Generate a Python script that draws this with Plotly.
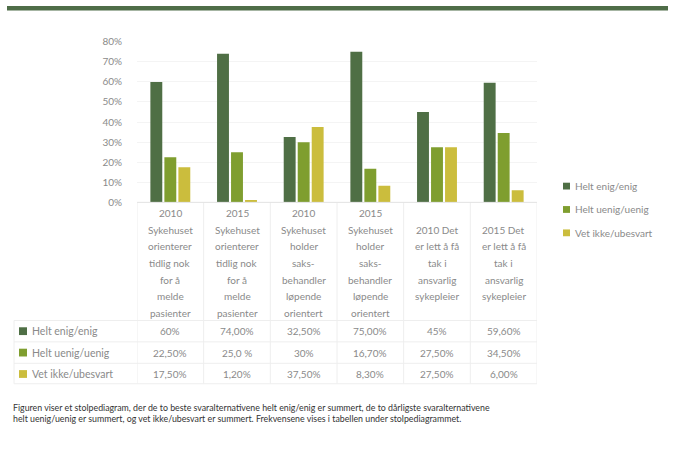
import plotly.graph_objects as go

# Categories (survey statement per year), one list entry per header line
categories = [
    ["2010", "Sykehuset", "orienterer", "tidlig nok", "for å", "melde", "pasienter"],
    ["2015", "Sykehuset", "orienterer", "tidlig nok", "for å", "melde", "pasienter"],
    ["2010", "Sykehuset", "holder", "saks-", "behandler", "løpende", "orientert"],
    ["2015", "Sykehuset", "holder", "saks-", "behandler", "løpende", "orientert"],
    ["2010 Det", "er lett å få", "tak i", "ansvarlig", "sykepleier"],
    ["2015 Det", "er lett å få", "tak i", "ansvarlig", "sykepleier"],
]

series_names = ["Helt enig/enig", "Helt uenig/uenig", "Vet ikke/ubesvart"]

# Frequencies as shown in the data table
enig_labels = ["60%", "74,00%", "32,50%", "75,00%", "45%", "59,60%"]
uenig_labels = ["22,50%", "25,0 %", "30%", "16,70%", "27,50%", "34,50%"]
vetikke_labels = ["17,50%", "1,20%", "37,50%", "8,30%", "27,50%", "6,00%"]

series_labels = [enig_labels, uenig_labels, vetikke_labels]
colors = ["#4f6f45", "#7f9e2f", "#cbbd3d"]

y_ticks = [0, 0.1, 0.2, 0.3, 0.4, 0.5, 0.6, 0.7, 0.8]
y_ticktext = ["0%", "10%", "20%", "30%", "40%", "50%", "60%", "70%", "80%"]

caption_lines = [
    "Figuren viser et stolpediagram, der de to beste svaralternativene helt enig/enig er summert, de to dårligste svaralternativene",
    "helt uenig/uenig er summert, og vet ikke/ubesvart er summert. Frekvensene vises i tabellen under stolpediagrammet.",
]


def pct(s):
    return float(s.replace("%", "").replace(",", ".").strip()) / 100.0


W, H = 674, 454
FONT = "Lato, Open Sans, sans-serif"
GREY = "#8a8a8a"
LINE = "#eeeeee"


def py(p):
    """pixel row -> paper y"""
    return 1 - p / H


def px(p):
    return p / W


x_idx = list(range(len(categories)))

fig = go.Figure()
for name, labels, col in zip(series_names, series_labels, colors):
    fig.add_trace(go.Bar(
        x=x_idx, y=[pct(s) for s in labels], name=name,
        marker=dict(color=col, line=dict(width=0)),
        hoverinfo="skip", showlegend=False,
    ))

plot_left, plot_right = 137, 537
plot_bottom, plot_top = 201.7, 36.7

fig.update_layout(
    width=W, height=H,
    margin=dict(l=0, r=0, t=0, b=0),
    paper_bgcolor="white", plot_bgcolor="white",
    barmode="group", bargap=0.37, bargroupgap=0.15,
    font=dict(family=FONT, color=GREY, size=10),
    showlegend=False,
    xaxis=dict(
        domain=[px(plot_left), px(plot_right)],
        range=[-0.5, len(categories) - 0.5],
        showticklabels=False, showgrid=False, zeroline=False,
        showline=False, fixedrange=True,
    ),
    yaxis=dict(
        domain=[py(plot_bottom), py(plot_top)],
        range=[0, 0.8], tickvals=y_ticks, ticktext=y_ticktext,
        showgrid=True, gridcolor="#f4f4f4", zeroline=False,
        showline=False, ticklabelstandoff=14,
        tickfont=dict(size=10, color=GREY), fixedrange=True,
    ),
)

annotations = []
shapes = []

# Legend at the right: small square + series name
legend_y = [185, 209, 233]
for name, col, ly in zip(series_names, colors, legend_y):
    shapes.append(dict(
        type="rect", xref="paper", yref="paper",
        x0=px(563), x1=px(570), y0=py(ly - 3.5), y1=py(ly + 3.5),
        fillcolor=col, line=dict(width=0),
    ))
    annotations.append(dict(
        x=px(573), xref="paper", y=py(ly), yref="paper", text=name,
        showarrow=False, xanchor="left", yanchor="middle",
        font=dict(size=10, color=GREY),
    ))

# Table header: category text, centred vertically within a 7-line block
header_top, line_step = 213, 17
max_lines = max(len(c) for c in categories)
for i, lines in enumerate(categories):
    offset = (max_lines - len(lines)) / 2
    for j, t in enumerate(lines):
        annotations.append(dict(
            x=i, xref="x", y=py(header_top + line_step * (j + offset)), yref="paper",
            text=t, showarrow=False, xanchor="center", yanchor="middle",
            font=dict(size=10, color=GREY),
        ))

# Table body: one row per series
row_y = [334, 356, 378]
for r, (name, labels, col) in enumerate(zip(series_names, series_labels, colors)):
    yy = py(row_y[r])
    shapes.append(dict(
        type="rect", xref="paper", yref="paper",
        x0=px(19), x1=px(27), y0=py(row_y[r] - 4), y1=py(row_y[r] + 4),
        fillcolor=col, line=dict(width=0),
    ))
    annotations.append(dict(
        x=px(30), xref="paper", y=yy, yref="paper", text=name,
        showarrow=False, xanchor="left", yanchor="middle",
        font=dict(size=10.5, color=GREY),
    ))
    for i, s in enumerate(labels):
        annotations.append(dict(
            x=i, xref="x", y=yy, yref="paper", text=s,
            showarrow=False, xanchor="center", yanchor="middle",
            font=dict(size=10, color=GREY),
        ))

# Table grid lines
table_bottom = 388
for k in range(len(categories) + 1):
    shapes.append(dict(
        type="line", xref="x", yref="paper",
        x0=k - 0.5, x1=k - 0.5, y0=py(plot_bottom), y1=py(table_bottom),
        line=dict(color=LINE, width=1),
    ))
shapes.append(dict(
    type="line", xref="paper", yref="paper",
    x0=px(plot_left), x1=px(plot_right), y0=py(plot_bottom), y1=py(plot_bottom),
    line=dict(color="#e2e2e2", width=1),
))
for yb in [323, 345, 367, table_bottom]:
    shapes.append(dict(
        type="line", xref="paper", yref="paper",
        x0=px(14), x1=px(plot_right), y0=py(yb), y1=py(yb),
        line=dict(color=LINE, width=1),
    ))
shapes.append(dict(
    type="line", xref="paper", yref="paper",
    x0=px(14), x1=px(14), y0=py(323), y1=py(table_bottom),
    line=dict(color=LINE, width=1),
))

# Dark green band across the top
shapes.append(dict(
    type="rect", xref="paper", yref="paper",
    x0=px(7), x1=px(668), y0=py(4.5), y1=1,
    fillcolor="#4f6d48", line=dict(width=0),
))

# Caption under the figure
for k, t in enumerate(caption_lines):
    annotations.append(dict(
        x=px(11), xref="paper", y=py(412 + 12 * k), yref="paper", text=t,
        showarrow=False, xanchor="left", yanchor="middle",
        font=dict(size=8.8, color="#333333", family=FONT),
    ))

fig.update_layout(annotations=annotations, shapes=shapes)
fig.write_html("out.html")
